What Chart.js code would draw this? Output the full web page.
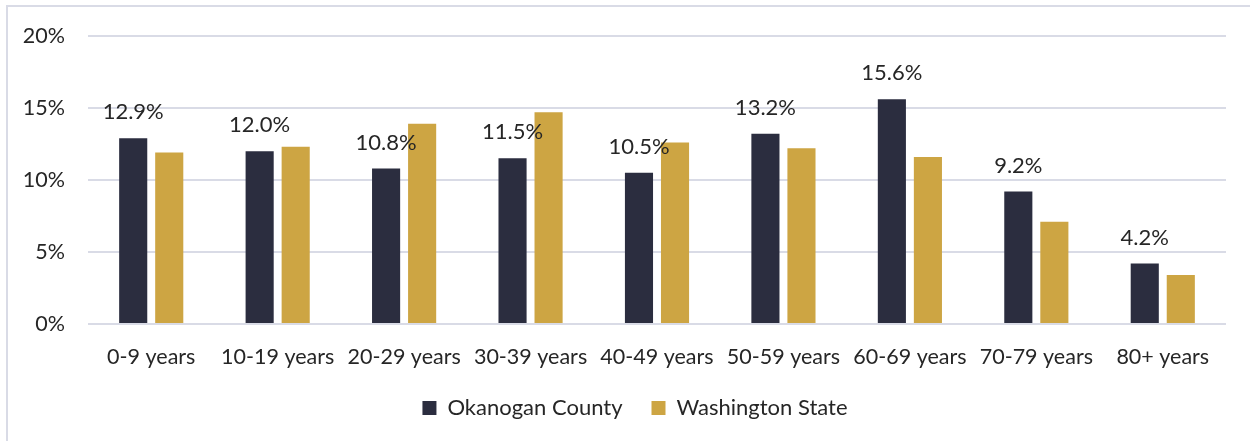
<!DOCTYPE html>
<html>
<head>
<meta charset="utf-8">
<script src="https://cdn.jsdelivr.net/npm/chart.js@4.4.1/dist/chart.umd.min.js"></script>
<style>
  html, body { margin: 0; padding: 0; background: #ffffff; }
  #wrap { position: relative; width: 1250px; height: 441px; overflow: hidden; }
  #frame { position: absolute; left: 6px; top: 5px; width: 1260px; height: 450px; border: 2px solid #d9dbe6; box-sizing: border-box; }
  canvas { position: absolute; left: 0; top: 0; }
</style>
</head>
<body>
<div id="wrap">
  <div id="frame"></div>
  <canvas id="c" width="1250" height="441"></canvas>
</div>
<script>
const categories = ["0-9 years", "10-19 years", "20-29 years", "30-39 years", "40-49 years", "50-59 years", "60-69 years", "70-79 years", "80+ years"];
const okanogan = [12.9, 12.0, 10.8, 11.5, 10.5, 13.2, 15.6, 9.2, 4.2];
const washington = [11.9, 12.3, 13.9, 14.7, 12.6, 12.2, 11.6, 7.1, 3.4];
const seriesNames = ["Okanogan County", "Washington State"];
const yTicks = [0, 5, 10, 15, 20];

const FONT = "Lato";
const FS = 21.5;
const TXT = "#262626";

const labelPlugin = {
  id: "barLabels",
  afterLayout(chart) {
    if (chart.legend) { chart.legend.left += 22; chart.legend.right += 22; }
  },
  afterDatasetsDraw(chart) {
    const ctx = chart.ctx;
    const meta = chart.getDatasetMeta(0);
    ctx.save();
    ctx.font = "22px " + FONT;
    ctx.fillStyle = TXT;
    ctx.textAlign = "center";
    ctx.textBaseline = "middle";
    meta.data.forEach((bar, i) => {
      ctx.fillText(okanogan[i].toFixed(1) + "%", bar.x, bar.y - 26);
    });
    ctx.restore();
  }
};

new Chart(document.getElementById("c"), {
  type: "bar",
  data: {
    labels: categories,
    datasets: [
      { label: seriesNames[0], data: okanogan, backgroundColor: "#2b2d3f" },
      { label: seriesNames[1], data: washington, backgroundColor: "#cda543" }
    ]
  },
  options: {
    responsive: false,
    animation: false,
    devicePixelRatio: 1,
    layout: { padding: { top: 35, right: 24, left: 0, bottom: 12 } },
    datasets: { bar: { categoryPercentage: 0.57, barPercentage: 0.78 } },
    scales: {
      x: {
        grid: { display: false },
        border: { display: false },
        ticks: { color: TXT, font: { family: FONT, size: FS }, padding: 12, maxRotation: 0, autoSkip: false },
        afterFit(scale) { scale.height = 44; }
      },
      y: {
        min: 0, max: 20,
        afterBuildTicks(scale) { scale.ticks = yTicks.map(v => ({ value: v })); },
        grid: { color: "#d9dbe6", lineWidth: 2, drawTicks: false },
        border: { display: false },
        ticks: { color: TXT, font: { family: FONT, size: FS }, padding: 23, callback: v => v + "%" },
        afterFit(scale) { scale.width = 88; }
      }
    },
    plugins: {
      legend: {
        position: "bottom",
        labels: { color: TXT, font: { family: FONT, size: 22 }, boxWidth: 14, boxHeight: 14, padding: 29 }
      },
      tooltip: { enabled: false }
    }
  },
  plugins: [labelPlugin]
});
</script>
</body>
</html>
